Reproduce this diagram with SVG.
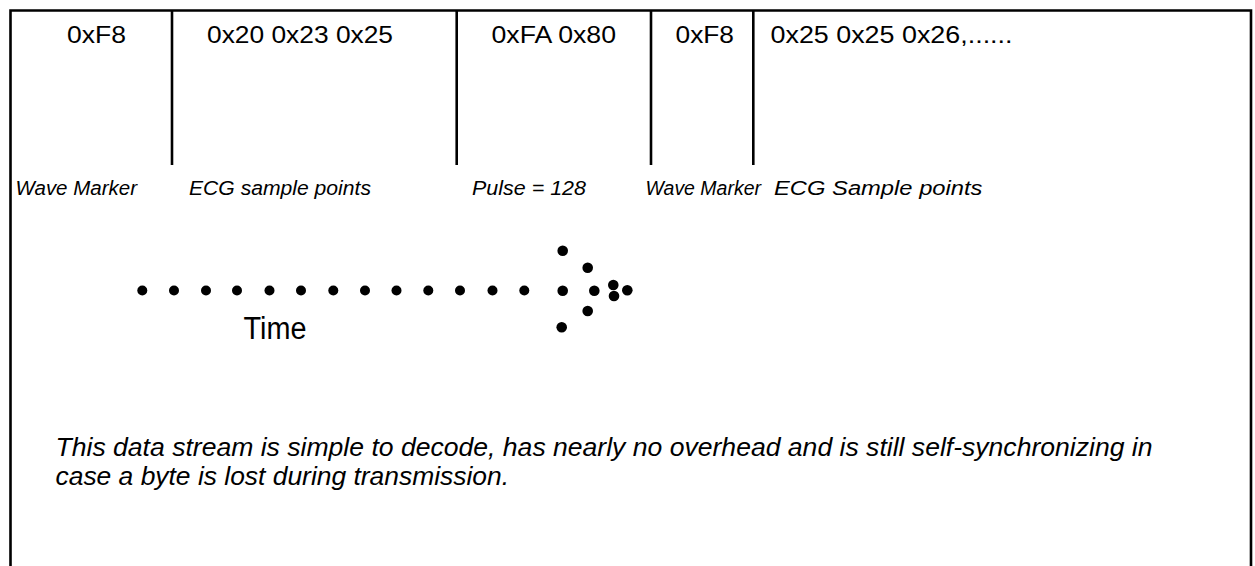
<svg xmlns="http://www.w3.org/2000/svg" width="1255" height="566" viewBox="0 0 1255 566">
<style>
.ln{stroke:#000;stroke-width:2.6;fill:none}
.hx{font-family:"Liberation Sans",Arial,sans-serif;font-size:23.5px;fill:#000}
.lb{font-family:"Liberation Sans",Arial,sans-serif;font-size:20.5px;font-style:italic;fill:#000}
.nt{font-family:"Liberation Sans",Arial,sans-serif;font-size:25px;font-style:italic;fill:#000}
.tm{font-family:"Liberation Sans",Arial,sans-serif;font-size:31px;fill:#000}
.d{fill:#000}
</style>
<rect width="1255" height="566" fill="#fff"/>
<g id="frame">
<path class="ln" d="M10.5,580 V10.5 H1251 V580"/>
</g>
<g id="connectors">
<line class="ln" x1="172" y1="10.5" x2="172" y2="165"/>
<line class="ln" x1="456.7" y1="10.5" x2="456.7" y2="165"/>
<line class="ln" x1="651" y1="10.5" x2="651" y2="165"/>
<line class="ln" x1="753.3" y1="10.5" x2="753.3" y2="165"/>
</g>
<g id="cell1"><text class="hx" x="67" y="42.7" textLength="59" lengthAdjust="spacingAndGlyphs">0xF8</text></g>
<g id="cell2"><text class="hx" x="207" y="42.7" textLength="186" lengthAdjust="spacingAndGlyphs">0x20 0x23 0x25</text></g>
<g id="cell3"><text class="hx" x="491.5" y="42.7" textLength="124.5" lengthAdjust="spacingAndGlyphs">0xFA 0x80</text></g>
<g id="cell4"><text class="hx" x="675.5" y="42.7" textLength="58.5" lengthAdjust="spacingAndGlyphs">0xF8</text></g>
<g id="cell5"><text class="hx" x="770.5" y="42.7" textLength="242" lengthAdjust="spacingAndGlyphs">0x25 0x25 0x26,......</text></g>
<g id="labels">
<text class="lb" x="15.5" y="195" textLength="121.5" lengthAdjust="spacingAndGlyphs">Wave Marker</text>
<text class="lb" x="189" y="195" textLength="182" lengthAdjust="spacingAndGlyphs">ECG sample points</text>
<text class="lb" x="472" y="195" textLength="114" lengthAdjust="spacingAndGlyphs">Pulse = 128</text>
<text class="lb" x="645.5" y="195" textLength="115.5" lengthAdjust="spacingAndGlyphs">Wave Marker</text>
<text class="lb" x="774" y="195" textLength="208.5" lengthAdjust="spacingAndGlyphs">ECG Sample points</text>
</g>
<g id="time-arrow">
<circle class="d" cx="142.3" cy="290.5" r="5"/>
<circle class="d" cx="174" cy="290.5" r="5"/>
<circle class="d" cx="206" cy="290.5" r="5"/>
<circle class="d" cx="237" cy="290.5" r="5"/>
<circle class="d" cx="269.5" cy="290.5" r="5"/>
<circle class="d" cx="301" cy="290.5" r="5"/>
<circle class="d" cx="333.3" cy="290.5" r="5"/>
<circle class="d" cx="365" cy="290.5" r="5"/>
<circle class="d" cx="396.5" cy="290.5" r="5"/>
<circle class="d" cx="428.3" cy="290.5" r="5"/>
<circle class="d" cx="460" cy="290.5" r="5"/>
<circle class="d" cx="492.5" cy="290.5" r="5"/>
<circle class="d" cx="524.3" cy="290.5" r="5"/>
<circle class="d" cx="562.7" cy="290.7" r="5.3"/>
<circle class="d" cx="562.7" cy="250.7" r="5.3"/>
<circle class="d" cx="587.7" cy="267.7" r="5.3"/>
<circle class="d" cx="594.3" cy="290.7" r="5.3"/>
<circle class="d" cx="613.3" cy="285" r="5.3"/>
<circle class="d" cx="614" cy="296" r="5.3"/>
<circle class="d" cx="627.3" cy="290.3" r="5.3"/>
<circle class="d" cx="587.7" cy="311" r="5.3"/>
<circle class="d" cx="561.7" cy="327.3" r="5.3"/>
<text class="tm" x="243.5" y="338.5" textLength="63" lengthAdjust="spacingAndGlyphs">Time</text>
</g>
<g id="note">
<text class="nt" x="55.5" y="456" textLength="1097" lengthAdjust="spacingAndGlyphs">This data stream is simple to decode, has nearly no overhead and is still self-synchronizing in</text>
<text class="nt" x="55.5" y="485" textLength="453.5" lengthAdjust="spacingAndGlyphs">case a byte is lost during transmission.</text>
</g>
</svg>
